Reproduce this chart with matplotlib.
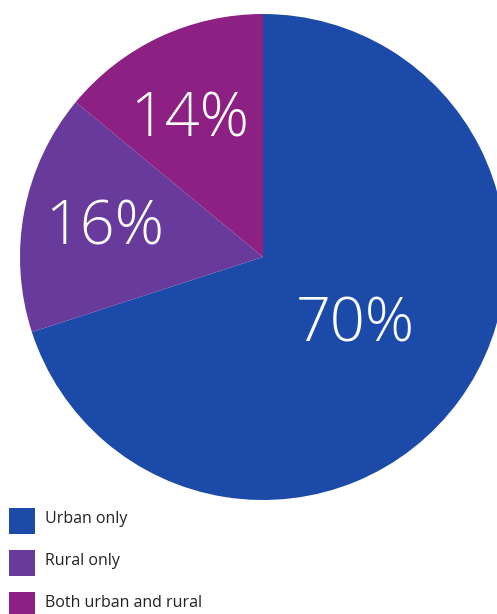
import matplotlib
matplotlib.use("Agg")
import matplotlib.pyplot as plt
from matplotlib.patches import Rectangle

categories = ["Urban only", "Rural only", "Both urban and rural"]
values = [70, 16, 14]
colors = ["#1b4aa8", "#673a9c", "#8c2083"]
label_pos = [(355, 326), (105, 229), (190, 121)]

W, H = 497, 614
fig = plt.figure(figsize=(W / 100, H / 100), dpi=100)
ax = fig.add_axes([0, 0, 1, 1])

cx, cy, r = 263, 257, 243
wedges, _ = ax.pie(values, colors=colors, center=(cx, cy), radius=r,
                   startangle=-90, counterclock=True, frame=True,
                   wedgeprops=dict(linewidth=0))
ax.set_xlim(0, W)
ax.set_ylim(H, 0)
ax.set_aspect("auto")
ax.axis("off")

for v, (x, y) in zip(values, label_pos):
    ax.text(x, y, f"{v}%", color="white", fontsize=44, family="Open Sans",
            fontweight="light", ha="center", va="center")

# legend
sq, top, step = 26, 508, 42
for i, (cat, col) in enumerate(zip(categories, colors)):
    y0 = top + i * step
    ax.add_patch(Rectangle((9, y0), sq, sq, facecolor=col, edgecolor="none",
                           clip_on=False))
    ax.text(45, y0 + sq / 2 - 2, cat, color="#222222", fontsize=11.5,
            family="Open Sans", ha="left", va="center")

fig.savefig("out.png", dpi=100)
